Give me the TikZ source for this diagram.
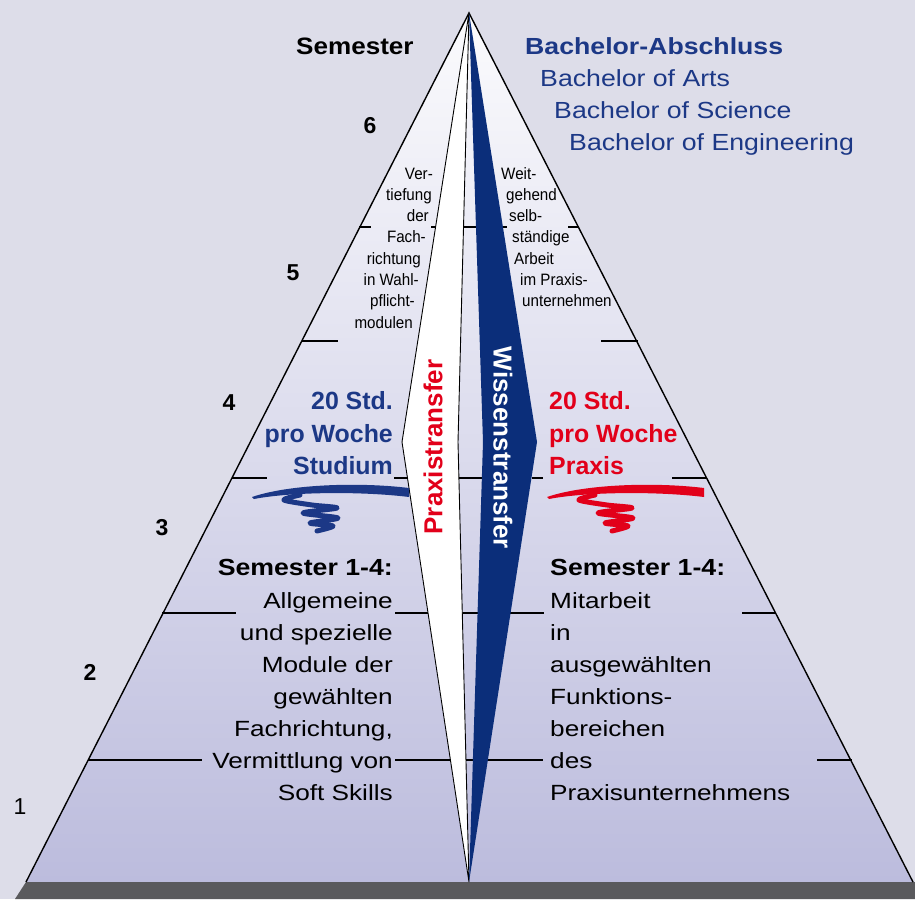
\documentclass[tikz,border=0pt]{standalone}
\usepackage{fontspec}
\setmainfont{Liberation Sans}
\newfontfamily\widesans{Liberation Sans}[FakeStretch=1.19]
\newfontfamily\headsans{Liberation Sans}[FakeStretch=1.145]
\newfontfamily\midsans{Liberation Sans}[FakeStretch=1.1]
\newfontfamily\narrowsans{Liberation Sans}[FakeStretch=0.92]
\usepackage{tikz}

\definecolor{bgcol}{RGB}{221,221,233}
\definecolor{pyrtop}{RGB}{251,251,253}
\definecolor{pyrbot}{RGB}{188,188,221}
\definecolor{basegrey}{RGB}{90,90,93}
\definecolor{textblue}{RGB}{28,56,134}
\definecolor{stripblue}{RGB}{11,46,122}
\definecolor{praxred}{RGB}{226,0,26}

\begin{document}
\begin{tikzpicture}[x=1pt,y=-1pt,
  levelline/.style={line width=1.6pt},
  edgeline/.style={line width=1.4pt},
  semnum/.style={font=\fontsize{23}{23}\selectfont\bfseries, anchor=base, inner sep=0pt},
  headtxt/.style={font=\fontsize{23.3}{24}\selectfont\headsans, inner sep=0pt, anchor=base west},
  bigtxt/.style={font=\fontsize{22}{24}\selectfont\widesans, inner sep=0pt},
  smalltxt/.style={font=\fontsize{16.5}{18}\selectfont\narrowsans, inner sep=0pt},
  hourtxt/.style={font=\fontsize{24.9}{26}\selectfont\bfseries, inner sep=0pt},
  transtxt/.style={font=\fontsize{26}{26}\selectfont\bfseries, inner sep=0pt},
  scribble/.style={line width=5pt, line cap=round, line join=round}]

\useasboundingbox (0,0) rectangle (915,899);
\fill[bgcol] (0,0) rectangle (915,899);

% pyramid
\coordinate (top) at (469,13);
\coordinate (bl) at (26,882);
\coordinate (br) at (913,882);
\coordinate (bot) at (469,882);

\shade[top color=pyrtop, bottom color=pyrbot] (top) -- (br) -- (bl) -- cycle;
\fill[basegrey] (bl) -- (915,882) -- (915,899) -- (15,899) -- cycle;
\draw[edgeline] (bl) -- (top) -- (br);

% level lines
\foreach \y/\a/\b in {227/359/371, 227/431/436, 227/463/476, 227/502/507, 227/568/579,
                      341/302/338, 341/601/638,
                      478/232/267, 478/394/408, 478/458/482, 478/532/543, 478/672/706,
                      613/162/236, 613/395/428, 613/461/478, 613/510/544, 613/742/775,
                      760/88/202, 760/395/450, 760/465/473, 760/487/543, 760/817/852}
{
\draw[levelline] (\a,\y) -- (\b,\y);
}

% strips
\coordinate (wl) at (402,442);
\coordinate (wr) at (458,442);
\coordinate (sl) at (483,442);
\coordinate (sr) at (537,442);

\filldraw[fill=white, line width=0.9pt] (top) -- (wl) -- (bot) -- (wr) -- cycle;
\fill[stripblue] (top) -- (sl) -- (bot) -- (sr) -- cycle;

\node[transtxt, rotate=90, text=praxred] (praxis) at (433,447) {Praxistransfer};
\node[transtxt, rotate=-90, text=white] (wissen) at (503,448) {Wissenstransfer};

% semesters
\node[headtxt, font=\fontsize{23.7}{24}\selectfont\midsans\bfseries] (sem) at (296,55) {Semester};
\foreach \n/\x/\y in {6/370/133, 5/293/280, 4/229/410, 3/162/535, 2/90/680}
{
\node[semnum] (n\n) at (\x,\y) {\n};
}
\node[semnum, font=\fontsize{23}{23}\selectfont] (n1) at (20,814) {1};

% degrees
\node[headtxt, text=textblue, font=\fontsize{23.3}{24}\selectfont\headsans\bfseries] (ba) at (525,55) {Bachelor-Abschluss};
\node[headtxt, text=textblue] (arts) at (540,86) {Bachelor of Arts};
\node[headtxt, text=textblue] (sci) at (554,118) {Bachelor of Science};
\node[headtxt, text=textblue] (eng) at (569,150) {Bachelor of Engineering};

% semester 5-6
\foreach \t/\x [count=\i] in {Ver-/433, tiefung/432, der/429, Fach-/426, richtung/421, in Wahl-/419, pflicht-/415, modulen/413}
{
\node[smalltxt, anchor=base east] (vt\i) at (\x,157.7+21.3*\i) {\t};
}
\foreach \t/\x [count=\i] in {Weit-/501, gehend/506, selb-/509, ständige/512, Arbeit/514, im Praxis-/520, unternehmen/522}
{
\node[smalltxt, anchor=base west] (wa\i) at (\x,157.7+21.3*\i) {\t};
}

% hours
\foreach \t/\y [count=\i] in {20 Std./409, pro Woche/442, Studium/474}
{
\node[hourtxt, anchor=base east, text=textblue] (st\i) at (393,\y) {\t};
}
\foreach \t/\y [count=\i] in {20 Std./409, pro Woche/442, Praxis/474}
{
\node[hourtxt, anchor=base west, text=praxred] (pr\i) at (549,\y) {\t};
}

% scribbles
\foreach \c/\s in {textblue/0, praxred/295}
{
\begin{scope}[xshift=\s pt, \c]
\fill (252,497) .. controls (290,484) and (360,482) .. (409,488) -- (409,497) .. controls (360,491) and (290,492) .. (254,499) -- cycle;
\draw[scribble] plot[smooth] coordinates {(300,495) (284,500) (312,505) (337,508) (303,513) (338,518) (310,523) (333,526) (317,531)};
\end{scope}
}

% semester 1-4
\node[headtxt, anchor=base east, font=\fontsize{23.3}{24}\selectfont\headsans\bfseries] (s14l) at (393,575) {Semester 1-4:};
\node[headtxt, anchor=base west, font=\fontsize{23.3}{24}\selectfont\headsans\bfseries] (s14r) at (550,575) {Semester 1-4:};
\foreach \t [count=\i] in {Allgemeine, und spezielle, Module der, gewählten, {Fachrichtung,}, Vermittlung von, Soft Skills}
{
\node[bigtxt, anchor=base east] (al\i) at (393,576+32*\i) {\t};
}
\foreach \t [count=\i] in {Mitarbeit, in, ausgewählten, Funktions-, bereichen, des, Praxisunternehmens}
{
\node[bigtxt, anchor=base west] (mi\i) at (550,576+32*\i) {\t};
}
\end{tikzpicture}
\end{document}
